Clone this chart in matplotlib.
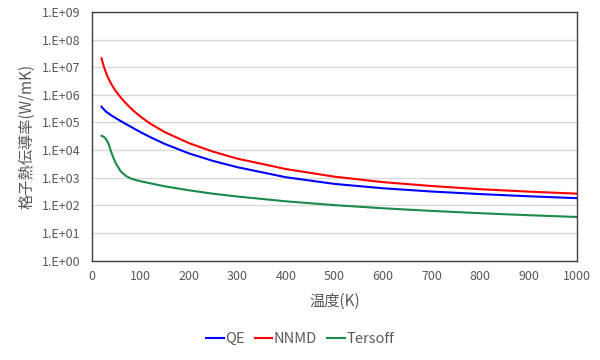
import numpy as np
import matplotlib
matplotlib.use("Agg")
import matplotlib.pyplot as plt
from matplotlib.ticker import FixedLocator, NullLocator

plt.rcParams['font.family'] = ['Noto Sans CJK JP', 'DejaVu Sans']

### data (temperature in K, conductivity in W/mK)
temp = [20, 25, 30, 35, 40, 45, 50, 60, 70, 80, 90, 100, 120, 150, 200, 250,
        300, 400, 500, 600, 700, 800, 900, 1000]

qe = [3.7e5, 2.95e5, 2.4e5, 2.1e5, 1.8e5, 1.6e5, 1.41e5, 1.11e5, 8.85e4, 7.05e4,
      5.6e4, 4.5e4, 2.97e4, 1.68e4, 7.6e3, 4.04e3, 2.4e3, 1.04e3, 5.97e2,
      4.15e2, 3.17e2, 2.56e2, 2.13e2, 1.82e2]

nnmd = [2.09e7, 1.02e7, 5.82e6, 3.66e6, 2.49e6, 1.78e6, 1.32e6, 7.83e5, 4.98e5,
        3.31e5, 2.3e5, 1.64e5, 9.16e4, 4.49e4, 1.79e4, 8.75e3, 4.89e3, 2.06e3,
        1.09e3, 6.92e2, 5.01e2, 3.84e2, 3.14e2, 2.65e2]

tersoff = [3.3e4, 3.0e4, 2.4e4, 1.6e4, 8.5e3, 5.0e3, 3.2e3, 1.66e3, 1.17e3, 9.44e2,
           8.32e2, 7.5e2, 6.31e2, 4.9e2, 3.51e2, 2.63e2, 2.09e2, 1.4e2, 1.02e2,
           7.85e1, 6.3e1, 5.2e1, 4.4e1, 3.8e1]

xticks = [0, 100, 200, 300, 400, 500, 600, 700, 800, 900, 1000]
yticks = [1e0, 1e1, 1e2, 1e3, 1e4, 1e5, 1e6, 1e7, 1e8, 1e9]
ytick_labels = ['1.E+00', '1.E+01', '1.E+02', '1.E+03', '1.E+04',
                '1.E+05', '1.E+06', '1.E+07', '1.E+08', '1.E+09']

txt_col = '#595959'

fig = plt.figure(figsize=(6, 3.6), dpi=100)
ax = fig.add_axes([0.153, 0.276, 0.809, 0.691])

ax.plot(temp, qe, color='#0000FF', lw=1.5, label='QE')
ax.plot(temp, nnmd, color='#FF0000', lw=1.5, label='NNMD')
ax.plot(temp, tersoff, color='#1A8A4A', lw=1.5, label='Tersoff')

ax.set_yscale('log')
ax.set_xlim(0, 1000)
ax.set_ylim(1e0, 1e9)
ax.xaxis.set_major_locator(FixedLocator(xticks))
ax.yaxis.set_major_locator(FixedLocator(yticks))
ax.yaxis.set_minor_locator(NullLocator())
ax.set_yticklabels(ytick_labels)
ax.tick_params(axis='both', length=0, labelsize=9, colors=txt_col)
ax.tick_params(axis='y', pad=8)
ax.tick_params(axis='x', pad=7)

ax.grid(axis='y', color='#D9D9D9', lw=1)
ax.set_axisbelow(True)
for s in ax.spines.values():
    s.set_color('#404040')
    s.set_linewidth(1)

ax.set_xlabel('温度(K)', fontsize=11, color=txt_col, labelpad=7)
ax.set_ylabel('格子熱伝導率(W/mK)', fontsize=11, color=txt_col, labelpad=5)

leg = fig.legend(loc='center', bbox_to_anchor=(0.5, 0.058), ncol=3, frameon=False,
                 fontsize=10.5, handlelength=1.2, handletextpad=0.1,
                 columnspacing=0.7)
for t in leg.get_texts():
    t.set_color(txt_col)

plt.savefig('out.png', dpi=100)
